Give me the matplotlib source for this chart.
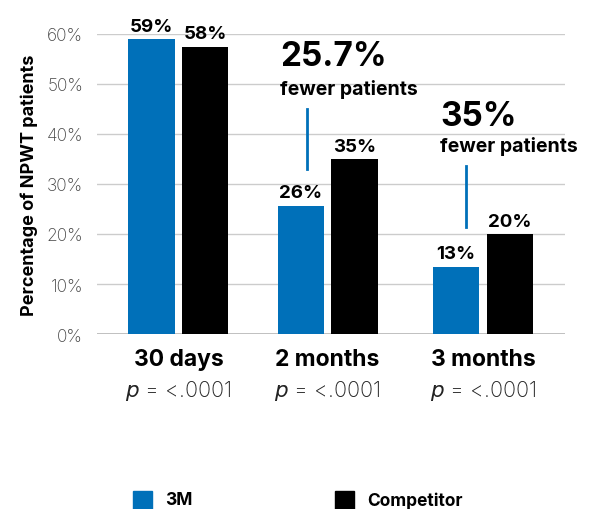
import matplotlib
matplotlib.use("Agg")
import matplotlib.pyplot as plt
import numpy as np

plt.rcParams['font.family'] = ['Inter', 'DejaVu Sans']

categories = ["30 days", "2 months", "3 months"]
pvalues = ["<.0001", "<.0001", "<.0001"]
series_names = ["3M", "Competitor"]
vals_3m = [59, 25.7, 13.5]
vals_comp = [57.5, 35, 20]
labels_3m = ["59%", "26%", "13%"]
labels_comp = ["58%", "35%", "20%"]
yticks = [0, 10, 20, 30, 40, 50, 60]
ytick_labels = ["0%", "10%", "20%", "30%", "40%", "50%", "60%"]
callouts = [("25.7%", "fewer patients"), ("35%", "fewer patients")]

BLUE = "#0070B9"
BLACK = "#000000"

fig = plt.figure(figsize=(5.97, 5.10), dpi=100)
ax = fig.add_axes([97/597, 175/510, 468/597, 300/510])

xpos = np.array([0, 0.98, 2.0])
w = 0.305
off = 0.176
ax.bar(xpos - off, vals_3m, w, color=BLUE, zorder=3)
ax.bar(xpos + off, vals_comp, w, color=BLACK, zorder=3)

for x, v, l in zip(xpos - off, vals_3m, labels_3m):
    ax.annotate(l, (x, v), xytext=(0, 6), textcoords='offset points',
                ha='center', va='baseline', fontsize=13.5, fontweight='bold')
for x, v, l in zip(xpos + off, vals_comp, labels_comp):
    ax.annotate(l, (x, v), xytext=(0, 6), textcoords='offset points',
                ha='center', va='baseline', fontsize=13.5, fontweight='bold')

ax.set_xlim(-0.535, 2.539)
ax.set_ylim(0, 60)
ax.set_yticks(yticks)
ax.set_yticklabels(ytick_labels, fontsize=12.5, color='#444444', fontweight='light')
ax.tick_params(axis='y', length=0, pad=10)
ax.set_xticks([])
for s in ax.spines.values():
    s.set_visible(False)
ax.yaxis.grid(True, color='#cccccc', lw=1, zorder=0)
ax.axhline(0, color='#bbbbbb', lw=2, zorder=2)
ax.set_ylabel("Percentage of NPWT patients", fontsize=13, fontweight='bold', labelpad=6)

for x, c, p in zip(xpos, categories, pvalues):
    ax.text(x, -5, c, ha='center', va='center', fontsize=16.5, fontweight='bold')
    ax.text(x, -11.2, r"$\it{p}$ = " + p, ha='center', va='center', fontsize=15.5,
            fontweight='light', color='#222222')

# callouts
ann = [(0.667, 55.6, 49.0, 0.842, 45, 33), (1.718, 43.6, 37.6, 1.888, 33.6, 21.4)]
sizes = [24, 24]
for (big, small), (tx, ybig, ysmall, lx, ly0, ly1), fs in zip(callouts, ann, sizes):
    ax.text(tx, ybig, big, ha='left', va='center', fontsize=fs, fontweight='bold')
    ax.text(tx, ysmall, small, ha='left', va='center', fontsize=14, fontweight='bold')
    ax.plot([lx, lx], [ly0, ly1], color=BLUE, lw=2, zorder=4)

# legend
lax = fig.add_axes([0, 0, 1, 1], facecolor='none')
lax.set_axis_off()
lax.set_xlim(0, 597)
lax.set_ylim(510, 0)
lax.add_patch(plt.Rectangle((133, 492), 19, 18, color=BLUE))
lax.text(165, 501, series_names[0], va='center', fontsize=12.5, fontweight='bold')
lax.add_patch(plt.Rectangle((335, 492), 19, 18, color=BLACK))
lax.text(367, 501, series_names[1], va='center', fontsize=12.5, fontweight='bold')

fig.savefig("out.png", dpi=100)
